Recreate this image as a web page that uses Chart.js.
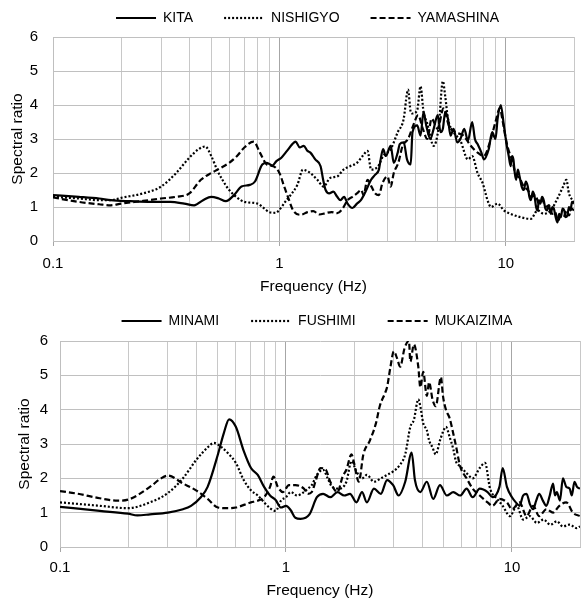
<!DOCTYPE html>
<html lang="en">
<head>
  <meta charset="UTF-8">
  <title>Spectral ratio</title>
  <script src="https://cdn.jsdelivr.net/npm/chart.js@4"></script>
  <style>
    body { margin: 0; background: #fff; }
    .panel { position: absolute; left: 0; width: 581px; height: 300px; }
  </style>
</head>
<body>
  <div class="panel" style="top:0"><canvas id="upper" width="581" height="300"></canvas></div>
  <div class="panel" style="top:300px"><canvas id="lower" width="581" height="300"></canvas></div>
  <script>
    // axis ticks
    const freqTicks = [0.1, 0.2, 0.3, 0.4, 0.5, 0.6, 0.7, 0.8, 0.9, 1, 2, 3, 4, 5, 6, 7, 8, 9, 10, 20];
    const labelledFreqs = [0.1, 1, 10];

    // upper panel
    const kitaFreq = [0.1, 0.13, 0.16, 0.18, 0.22, 0.27, 0.33, 0.38, 0.42, 0.46, 0.5, 0.54, 0.58, 0.63, 0.68, 0.74, 0.78, 0.84, 0.88, 0.93, 0.97, 1.02, 1.08, 1.14, 1.18, 1.23, 1.28, 1.33, 1.37, 1.44, 1.52, 1.56, 1.6, 1.66, 1.73, 1.8, 1.86, 1.93, 2.0, 2.1, 2.2, 2.29, 2.4, 2.54, 2.65, 2.75, 2.8, 2.87, 2.95, 3.1, 3.2, 3.33, 3.4, 3.54, 3.66, 3.8, 3.87, 4.06, 4.2, 4.33, 4.45, 4.64, 4.8, 5.0, 5.15, 5.27, 5.4, 5.55, 5.7, 5.88, 6.1, 6.3, 6.55, 6.8, 7.1, 7.3, 7.5, 7.8, 8.0, 8.4, 8.7, 9.0, 9.2, 9.5, 9.8, 10.1, 10.3, 10.5, 10.65, 10.8, 10.95, 11.1, 11.3, 11.5, 11.75, 12.0, 12.25, 12.5, 12.7, 12.9, 13.15, 13.4, 13.6, 13.8, 14.0, 14.2, 14.45, 14.7, 14.95, 15.2, 15.5, 15.8, 16.05, 16.3, 16.6, 16.9, 17.2, 17.5, 17.8, 18.1, 18.4, 18.7, 19.0, 19.3, 19.6, 20];
    const kitaRatio = [1.35, 1.3, 1.25, 1.2, 1.17, 1.15, 1.15, 1.1, 1.05, 1.2, 1.3, 1.25, 1.17, 1.35, 1.6, 1.65, 1.75, 2.25, 2.3, 2.22, 2.35, 2.45, 2.65, 2.85, 2.92, 2.75, 2.8, 2.65, 2.6, 2.4, 2.2, 1.8, 1.5, 1.4, 1.45, 1.3, 1.2, 1.3, 1.1, 0.97, 1.1, 1.2, 1.45, 1.8, 1.95, 2.1, 2.4, 2.7, 2.5, 2.8, 2.3, 2.6, 2.85, 2.9, 2.4, 2.25, 3.2, 3.4, 3.1, 3.8, 3.4, 3.0, 3.3, 3.7, 3.2, 3.3, 3.8, 3.6, 3.1, 3.3, 2.9, 3.0, 3.3, 2.95, 3.5, 3.0, 2.85, 2.6, 2.4, 2.7, 3.2, 3.0, 3.6, 4.0, 3.4, 2.8, 2.5, 2.2, 2.5, 2.4, 2.0, 1.8, 2.1, 1.9, 1.6, 1.5, 1.75, 1.6, 1.3, 1.2, 1.45, 1.3, 1.0, 0.9, 1.2, 1.1, 1.3, 1.2, 0.95, 0.9, 1.05, 0.8, 1.0, 0.95, 0.7, 0.55, 0.8, 0.7, 0.95, 0.9, 0.7, 0.75, 1.0, 0.9, 1.15, 1.1];

    const nishigyoFreq = [0.1, 0.13, 0.16, 0.18, 0.2, 0.25, 0.3, 0.35, 0.4, 0.44, 0.47, 0.5, 0.53, 0.56, 0.6, 0.65, 0.7, 0.8, 0.86, 0.9, 0.96, 1.0, 1.06, 1.12, 1.2, 1.27, 1.33, 1.37, 1.47, 1.57, 1.67, 1.8, 1.92, 2.05, 2.2, 2.33, 2.45, 2.54, 2.73, 2.87, 3.1, 3.33, 3.54, 3.66, 3.7, 3.8, 3.87, 4.06, 4.2, 4.33, 4.5, 4.8, 5.05, 5.27, 5.4, 5.55, 5.88, 6.3, 6.8, 7.1, 7.5, 7.9, 8.3, 8.6, 9.2, 9.8, 10.5, 11.6, 12.9, 13.8, 14.7, 15.8, 16.9, 17.9, 18.5, 19, 20];
    const nishigyoRatio = [1.3, 1.25, 1.2, 1.2, 1.27, 1.4, 1.6, 2.0, 2.45, 2.7, 2.78, 2.5, 2.1, 1.8, 1.5, 1.28, 1.15, 1.1, 0.95, 0.85, 0.83, 0.92, 1.15, 1.35, 1.65, 2.1, 2.05, 2.0, 1.8, 1.6, 1.85, 1.9, 2.1, 2.2, 2.3, 2.5, 2.65, 2.1, 2.2, 2.5, 2.7, 3.2, 3.6, 4.35, 4.45, 3.8, 3.75, 3.85, 4.55, 3.8, 3.45, 2.8, 3.35, 4.7, 4.25, 3.6, 3.2, 2.95, 2.4, 2.5, 2.0, 1.7, 1.2, 1.0, 1.1, 0.9, 0.8, 0.7, 0.65, 0.9, 0.8, 0.9, 1.25, 1.6, 1.8, 1.4, 1.15];

    const yamashinaFreq = [0.1, 0.13, 0.16, 0.18, 0.2, 0.25, 0.3, 0.35, 0.4, 0.45, 0.5, 0.55, 0.6, 0.65, 0.7, 0.77, 0.82, 0.88, 0.94, 1.0, 1.05, 1.09, 1.15, 1.24, 1.33, 1.41, 1.5, 1.6, 1.7, 1.8, 1.9, 2.0, 2.1, 2.2, 2.3, 2.35, 2.45, 2.55, 2.65, 2.75, 2.85, 3.0, 3.1, 3.2, 3.35, 3.5, 3.7, 3.9, 4.1, 4.3, 4.5, 4.7, 5.0, 5.3, 5.6, 6.0, 6.5, 7.0, 7.5, 8.0, 8.5, 9.0, 9.4, 9.7, 10, 10.25, 10.5, 10.75, 11, 11.5, 12, 12.5, 13, 13.5, 14, 14.5, 15, 15.5, 16, 16.5, 17, 17.5, 18, 18.5, 19, 19.5, 20];
    const yamashinaRatio = [1.28, 1.15, 1.08, 1.05, 1.1, 1.18, 1.25, 1.3, 1.4, 1.8, 2.0, 2.15, 2.3, 2.5, 2.75, 2.92, 2.6, 2.25, 2.2, 2.0, 1.6, 1.3, 0.9, 0.77, 0.85, 0.88, 0.78, 0.82, 0.85, 0.82, 0.95, 1.2, 1.3, 1.4, 1.5, 1.35, 1.8, 1.6, 1.4, 1.35, 1.7, 1.9, 1.6, 2.0, 2.3, 2.8, 3.0, 3.4, 3.7, 3.3, 3.0, 3.6, 3.3, 3.9, 3.4, 3.2, 3.1, 2.8, 2.6, 2.5, 2.9, 3.5, 3.9, 3.5, 3.0, 2.7, 2.5, 2.3, 2.0, 1.85, 1.6, 1.5, 1.3, 1.35, 1.1, 1.2, 1.0, 1.05, 0.8, 0.85, 0.6, 0.75, 0.7, 0.9, 0.75, 0.95, 0.9];

    // lower panel
    const minamiFreq = [0.1, 0.15, 0.2, 0.22, 0.25, 0.3, 0.35, 0.38, 0.42, 0.45, 0.5, 0.53, 0.56, 0.6, 0.65, 0.7, 0.75, 0.8, 0.85, 0.9, 0.95, 1.0, 1.05, 1.1, 1.16, 1.27, 1.37, 1.46, 1.57, 1.69, 1.81, 1.92, 2.05, 2.17, 2.28, 2.45, 2.63, 2.8, 2.98, 3.15, 3.37, 3.6, 3.72, 3.93, 4.2, 4.48, 4.8, 5.15, 5.5, 5.9, 6.3, 6.7, 7.2, 7.8, 8.2, 8.8, 9.1, 9.5, 10, 10.4, 10.8, 11.2, 11.6, 12.0, 12.4, 12.8, 13.2, 13.7, 14.2, 14.7, 15.2, 15.5, 15.8, 16.3, 16.8, 17.4, 18, 18.4, 18.9, 19.4, 20];
    const minamiRatio = [1.17, 1.05, 0.97, 0.92, 0.95, 1.0, 1.1, 1.2, 1.45, 1.75, 2.7, 3.3, 3.72, 3.5, 2.8, 2.3, 2.1, 1.75, 1.5, 1.37, 1.15, 1.2, 1.07, 0.85, 0.82, 0.95, 1.45, 1.55, 1.45, 1.6, 1.5, 1.55, 1.3, 1.6, 1.3, 1.7, 1.55, 1.95, 1.8, 1.5, 1.9, 2.75, 1.95, 1.6, 1.9, 1.4, 1.8, 1.5, 1.6, 1.5, 1.7, 1.45, 1.7, 1.6, 1.45, 1.75, 2.3, 1.75, 1.45, 1.3, 1.2, 1.5, 1.55, 1.25, 1.1, 1.35, 1.55, 1.35, 1.2, 1.5, 1.85, 1.5, 1.6, 1.35, 2.0, 1.75, 1.7, 1.5, 1.9, 1.75, 1.7];

    const fushimiFreq = [0.1, 0.15, 0.2, 0.25, 0.3, 0.35, 0.4, 0.45, 0.48, 0.52, 0.56, 0.6, 0.65, 0.7, 0.75, 0.8, 0.85, 0.9, 0.95, 1.0, 1.05, 1.12, 1.2, 1.25, 1.3, 1.37, 1.46, 1.53, 1.6, 1.72, 1.85, 1.95, 2.05, 2.17, 2.28, 2.45, 2.63, 2.8, 2.98, 3.2, 3.37, 3.55, 3.68, 3.85, 3.93, 4.05, 4.2, 4.3, 4.45, 4.6, 4.8, 4.95, 5.1, 5.3, 5.5, 5.65, 5.9, 6.3, 6.7, 7.2, 7.6, 8.0, 8.6, 9.1, 9.8, 10.5, 11.2, 12.0, 12.9, 13.8, 14.8, 15.8, 16.8, 18, 19.3, 20];
    const fushimiRatio = [1.3, 1.2, 1.13, 1.3, 1.57, 2.0, 2.53, 2.9, 3.03, 2.9, 2.7, 2.45, 1.95, 1.65, 1.5, 1.3, 1.13, 1.05, 1.35, 1.45, 1.6, 1.5, 1.6, 1.7, 1.8, 2.1, 2.25, 2.0, 1.75, 1.7, 1.9, 2.5, 2.2, 2.0, 2.1, 1.9, 2.0, 2.1, 2.2, 2.4, 2.7, 3.5, 3.7, 4.3, 4.1, 3.6, 3.4, 3.1, 2.9, 2.7, 3.1, 3.35, 3.5, 3.2, 2.85, 2.5, 2.35, 2.15, 2.0, 2.3, 2.45, 1.7, 1.4, 1.2, 0.9, 1.2, 0.8, 0.9, 0.7, 0.8, 0.65, 0.75, 0.6, 0.65, 0.55, 0.6];

    const mukaizimaFreq = [0.1, 0.12, 0.15, 0.18, 0.2, 0.25, 0.28, 0.3, 0.35, 0.4, 0.45, 0.5, 0.55, 0.6, 0.7, 0.75, 0.8, 0.85, 0.88, 0.92, 0.97, 1.03, 1.1, 1.2, 1.25, 1.3, 1.35, 1.42, 1.5, 1.57, 1.69, 1.78, 1.85, 1.95, 2.0, 2.1, 2.2, 2.35, 2.5, 2.6, 2.75, 2.8, 2.9, 3.0, 3.1, 3.2, 3.35, 3.5, 3.55, 3.68, 3.85, 3.93, 4.05, 4.2, 4.3, 4.45, 4.6, 4.85, 4.95, 5.1, 5.3, 5.5, 5.65, 5.9, 6.3, 6.7, 7.2, 7.8, 8.2, 8.8, 9.5, 10, 10.8, 11.6, 12.4, 13.2, 14.2, 15.2, 16.2, 17.4, 18.6, 20];
    const mukaizimaRatio = [1.63, 1.55, 1.42, 1.35, 1.38, 1.75, 2.0, 2.08, 1.85, 1.65, 1.4, 1.15, 1.13, 1.15, 1.3, 1.35, 1.45, 1.75, 2.05, 1.75, 1.6, 1.8, 1.8, 1.7, 1.55, 1.6, 1.9, 2.3, 2.25, 1.9, 1.6, 2.05, 2.25, 2.7, 2.45, 1.9, 2.7, 3.1, 3.6, 4.1, 4.5, 4.65, 5.25, 5.7, 5.5, 5.25, 5.8, 6.0, 5.4, 5.9, 5.25, 4.65, 5.1, 4.4, 4.8, 4.3, 4.1, 4.95, 4.4, 4.0, 3.75, 3.3, 2.95, 2.35, 2.0, 1.7, 1.5, 1.3, 1.2, 1.4, 1.3, 1.1, 1.3, 0.9, 1.2, 0.9, 1.1, 1.0, 1.2, 1.3, 1.0, 0.9];

    const dashes = { solid: [], dotted: [2, 2], dashed: [6, 3] };
    const fontFamily = '"Liberation Sans", Arial, sans-serif';
    const legendLineWidth = 40;

    function series(label, freq, ratio, style) {
      return {
        label: label,
        data: freq.map((f, i) => ({ x: f, y: ratio[i] })),
        borderColor: '#000',
        backgroundColor: '#000',
        borderWidth: 2.2,
        borderDash: dashes[style],
        pointRadius: 0,
        fill: false,
        cubicInterpolationMode: 'monotone'
      };
    }

    function isLabelled(v) {
      return labelledFreqs.some(f => Math.abs(f - v) < 1e-9);
    }

    // chart.js draws legend point-style lines solid, so the samples are stroked here
    const legendLines = {
      id: 'legendLines',
      afterLayout(chart) {
        const shift = chart.options.plugins.legendLines.shift;
        chart.legend.left += shift;
        chart.legend.right += shift;
      },
      afterDraw(chart) {
        const ctx = chart.ctx;
        chart.legend.legendHitBoxes.forEach((box, i) => {
          const ds = chart.data.datasets[i];
          const y = box.top + box.height / 2;
          ctx.save();
          ctx.strokeStyle = ds.borderColor;
          ctx.lineWidth = ds.borderWidth;
          ctx.setLineDash(ds.borderDash);
          ctx.beginPath();
          ctx.moveTo(box.left, y);
          ctx.lineTo(box.left + legendLineWidth, y);
          ctx.stroke();
          ctx.restore();
        });
      }
    };

    function makeChart(id, datasets, box) {
      return new Chart(document.getElementById(id), {
        type: 'line',
        data: { datasets: datasets },
        plugins: [legendLines],
        options: {
          responsive: false,
          animation: false,
          layout: { padding: box.padding },
          plugins: {
            tooltip: { enabled: false },
            legendLines: { shift: box.legendShift },
            legend: {
              position: 'top',
              fullSize: false,
              labels: {
                color: '#000',
                font: { family: fontFamily, size: 14 },
                boxWidth: legendLineWidth,
                boxHeight: box.legendRow,
                padding: box.legendGap,
                generateLabels: chart =>
                  Chart.defaults.plugins.legend.labels.generateLabels(chart).map(item =>
                    Object.assign(item, { fillStyle: 'rgba(0,0,0,0)', strokeStyle: 'rgba(0,0,0,0)', lineWidth: 0 }))
              }
            }
          },
          scales: {
            x: {
              type: 'logarithmic',
              min: 0.1,
              max: 20,
              afterBuildTicks: axis => {
                axis.ticks = freqTicks.map(v => ({ value: v, major: isLabelled(v) }));
              },
              afterFit: scale => {
                scale.height = box.xHeight;
                scale.paddingLeft = 0;
                scale.paddingRight = 0;
              },
              ticks: {
                autoSkip: false,
                maxRotation: 0,
                color: '#000',
                padding: box.xTickPad,
                font: { family: fontFamily, size: 15 },
                callback: v => isLabelled(v) ? String(v) : ''
              },
              grid: {
                color: ctx => isLabelled(ctx.tick.value) ? '#a6a6a6' : '#c8c8c8',
                tickColor: ctx => isLabelled(ctx.tick.value) ? '#a6a6a6' : 'rgba(0,0,0,0)',
                tickLength: 5
              },
              border: { color: '#bfbfbf' },
              title: {
                display: true,
                text: 'Frequency (Hz)',
                color: '#000',
                font: { family: fontFamily, size: 15.5 },
                padding: { top: 0, bottom: box.xTitlePad }
              }
            },
            y: {
              min: 0,
              max: 6,
              afterFit: scale => { scale.width = 53; },
              ticks: {
                stepSize: 1,
                color: '#000',
                padding: box.yTickPad,
                font: { family: fontFamily, size: 15 }
              },
              grid: { color: '#c0c0c0', drawTicks: false },
              border: { color: '#bfbfbf' },
              title: {
                display: true,
                text: 'Spectral ratio',
                color: '#000',
                font: { family: fontFamily, size: 15.5 },
                padding: { top: 8, bottom: 0 }
              }
            }
          }
        }
      });
    }

    makeChart('upper', [
      series('KITA', kitaFreq, kitaRatio, 'solid'),
      series('NISHIGYO', nishigyoFreq, nishigyoRatio, 'dotted'),
      series('YAMASHINA', yamashinaFreq, yamashinaRatio, 'dashed')
    ], {
      padding: { left: 0, right: 7, top: -22, bottom: 0 },
      legendGap: 31,
      legendRow: 18,
      legendShift: -6,
      xHeight: 59,
      xTickPad: 9,
      xTitlePad: 4,
      yTickPad: 15
    });

    makeChart('lower', [
      series('MINAMI', minamiFreq, minamiRatio, 'solid'),
      series('FUSHIMI', fushimiFreq, fushimiRatio, 'dotted'),
      series('MUKAIZIMA', mukaizimaFreq, mukaizimaRatio, 'dashed')
    ], {
      padding: { left: 7, right: 1, top: -21, bottom: 0 },
      legendGap: 32,
      legendRow: 20,
      legendShift: -3,
      xHeight: 53,
      xTickPad: 7,
      xTitlePad: 0,
      yTickPad: 12
    });
  </script>
</body>
</html>
